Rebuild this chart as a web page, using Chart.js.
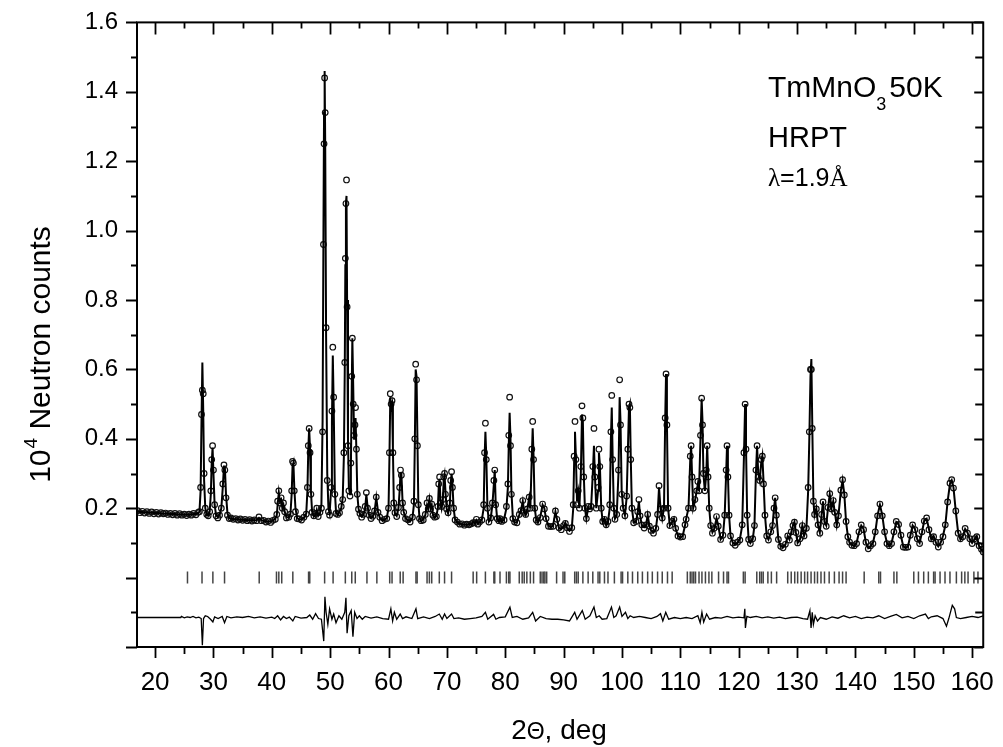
<!DOCTYPE html>
<html>
<head>
<meta charset="utf-8">
<script src="https://cdn.jsdelivr.net/npm/chart.js@4.4.1/dist/chart.umd.min.js"></script>
<style>
html,body{margin:0;padding:0;background:#fff;}
#wrap{width:1003px;height:747px;position:relative;}
</style>
</head>
<body>
<div id="wrap"><canvas id="c" width="1003" height="747"></canvas></div>
<script>
// ---- data ----
const xTickValues = [20,30,40,50,60,70,80,90,100,110,120,130,140,150,160];
const xMinorValues = [25,35,45,55,65,75,85,95,105,115,125,135,145,155];
const yTickValues = [-0.2,0,0.2,0.4,0.6,0.8,1.0,1.2,1.4,1.6];
const yMinorValues = [-0.1,0.1,0.3,0.5,0.7,0.9,1.1,1.3,1.5];

const calcPts = [
[17.0,.19],[17.4,.189],[17.8,.189],[18.2,.188],[18.6,.188],[19.0,.187],[19.4,.187],[19.8,.186],[20.2,.186],[20.6,.186],[21.0,.185],[21.4,.185],[21.8,.184],[22.2,.184],[22.6,.183],[23.0,.183],[23.4,.183],[23.8,.182],[24.2,.182],[24.6,.182],[25.0,.181],[25.4,.182],[25.8,.181],[26.2,.182],[26.6,.183],[27.0,.183],[27.4,.186],
[27.6,.19],[27.8,.25],[27.95,.45],[28.1,.62],[28.25,.48],[28.4,.28],[28.6,.2],[28.85,.18],[29.1,.18],
[29.35,.19],[29.55,.24],[29.7,.33],[29.85,.375],[30.0,.3],[30.2,.21],[30.45,.18],[30.75,.175],[31.05,.18],
[31.35,.2],[31.6,.26],[31.8,.32],[31.95,.32],[32.15,.24],[32.4,.185],[32.7,.172],
[33.0,.17],[33.4,.169],[33.8,.168],[34.2,.168],[34.6,.167],[35.0,.167],[35.4,.166],[35.8,.166],[36.2,.165],[36.6,.165],[37.0,.165],[37.4,.166],[37.8,.172],[38.2,.166],[38.6,.163],[39.0,.162],[39.4,.161],[39.8,.162],[40.2,.164],[40.6,.17],
[40.85,.18],[41.0,.21],[41.2,.245],[41.4,.22],[41.6,.225],[41.8,.2],[42.0,.21],[42.2,.19],[42.5,.175],[42.9,.172],[43.2,.185],
[43.4,.24],[43.55,.32],[43.7,.33],[43.85,.26],[44.05,.2],[44.35,.172],[44.7,.167],[45.1,.168],[45.5,.172],[45.9,.185],
[46.1,.25],[46.25,.37],[46.4,.43],[46.55,.37],[46.7,.25],[46.9,.19],[47.2,.176],[47.5,.182],[47.7,.195],[47.95,.178],[48.25,.185],
[48.5,.21],[48.7,.45],[48.85,1.0],[48.95,1.34],[49.05,1.46],[49.15,1.25],[49.3,.7],[49.5,.3],[49.7,.2],[49.9,.185],
[50.15,.25],[50.3,.45],[50.45,.64],[50.6,.5],[50.8,.25],[51.0,.19],[51.3,.18],[51.6,.19],[51.9,.2],[52.15,.23],
[52.35,.35],[52.5,.6],[52.6,.9],[52.7,1.08],[52.8,1.1],[52.9,.8],[53.05,.4],[53.2,.26],[53.4,.24],
[53.55,.32],[53.7,.55],[53.8,.69],[53.95,.55],[54.1,.4],[54.25,.44],[54.35,.46],[54.5,.36],[54.65,.24],[54.85,.2],[55.1,.182],[55.4,.176],[55.7,.18],
[56.0,.2],[56.2,.24],[56.4,.205],[56.7,.178],[57.0,.172],[57.3,.175],[57.6,.19],
[57.9,.23],[58.2,.19],[58.5,.172],[58.9,.166],[59.3,.166],[59.7,.172],
[60.0,.2],[60.15,.34],[60.3,.52],[60.45,.49],[60.6,.5],[60.75,.37],[60.9,.22],[61.1,.185],[61.4,.178],[61.7,.2],
[61.9,.25],[62.05,.3],[62.2,.3],[62.4,.22],[62.6,.19],[62.9,.172],[63.3,.165],[63.7,.162],[64.1,.172],
[64.35,.21],[64.5,.38],[64.65,.6],[64.8,.58],[64.95,.4],[65.1,.22],[65.3,.172],[65.6,.162],[65.95,.168],
[66.3,.18],[66.6,.21],[66.8,.2],[67.0,.225],[67.2,.2],[67.4,.21],[67.6,.183],[67.9,.172],[68.2,.178],
[68.45,.2],[68.6,.26],[68.75,.285],[68.9,.22],[69.1,.2],[69.3,.22],[69.45,.28],[69.6,.295],[69.75,.25],[69.95,.2],[70.2,.185],[70.5,.21],[70.65,.27],[70.8,.3],[70.95,.27],[71.15,.2],[71.4,.168],[71.8,.158],[72.2,.156],[72.6,.153],[73.0,.153],[73.4,.152],[73.8,.154],[74.2,.152],[74.5,.16],[74.8,.156],[75.05,.165],[75.3,.156],[75.6,.158],[76.0,.168],
[76.3,.2],[76.45,.34],[76.6,.42],[76.75,.35],[76.95,.2],[77.2,.162],[77.5,.17],[77.8,.21],[78.05,.27],[78.2,.31],[78.35,.22],[78.6,.172],[78.9,.162],[79.1,.172],[79.4,.16],[79.8,.168],[80.2,.2],
[80.45,.26],[80.6,.38],[80.75,.475],[80.9,.4],[81.05,.25],[81.3,.172],[81.6,.158],[82.0,.16],[82.4,.18],[82.7,.195],[83.0,.22],[83.25,.19],[83.5,.18],[83.8,.2],[84.1,.23],[84.3,.2],[84.55,.35],[84.7,.43],[84.85,.35],[85.05,.2],[85.3,.168],[85.6,.158],[86.0,.175],[86.4,.21],[86.7,.2],[87.0,.168],[87.4,.15],[87.8,.145],[88.2,.15],[88.6,.19],[88.85,.17],[89.2,.142],[89.6,.14],[90.0,.148],[90.3,.158],[90.6,.142],[91.0,.135],[91.4,.142],[91.65,.2],
[91.8,.33],[91.95,.42],[92.1,.35],[92.3,.22],[92.5,.245],[92.7,.2],[92.95,.3],[93.15,.47],[93.3,.45],[93.45,.3],[93.65,.2],[93.9,.17],[94.2,.2],[94.45,.2],[94.7,.2],[95.0,.3],[95.2,.38],[95.35,.3],[95.6,.2],[95.9,.25],[96.05,.36],[96.2,.33],[96.45,.2],[96.7,.16],[97.0,.17],[97.3,.15],[97.6,.16],[97.9,.2],[98.1,.4],[98.25,.49],[98.4,.35],[98.6,.2],[98.8,.17],[99.1,.18],[99.4,.3],[99.6,.52],[99.75,.45],[99.95,.25],[100.2,.2],[100.5,.18],[100.8,.23],[101.0,.36],[101.2,.49],[101.35,.5],[101.5,.35],[101.7,.2],[102.0,.16],[102.4,.16],[102.7,.19],[102.9,.22],[103.1,.18],[103.4,.15],[103.8,.145],[104.1,.15],[104.4,.18],[104.7,.15],[105.0,.135],[105.4,.13],[105.8,.14],[106.1,.18],[106.35,.26],[106.6,.2],[106.9,.17],[107.2,.2],[107.4,.45],[107.55,.587],[107.7,.45],[107.9,.2],[108.2,.15],[108.6,.16],[108.9,.17],[109.2,.14],[109.6,.12],[110.0,.115],[110.4,.12],[110.8,.15],[111.0,.17],[111.4,.2],[111.7,.34],[111.85,.38],[112.0,.3],[112.2,.2],[112.5,.22],[112.8,.25],[113.0,.27],[113.2,.25],[113.45,.4],[113.65,.515],[113.8,.45],[113.95,.3],[114.2,.25],[114.45,.3],[114.6,.38],[114.75,.3],[114.95,.2],[115.2,.15],[115.5,.13],[115.8,.14],[116.2,.17],[116.5,.15],[116.9,.11],[117.3,.12],[117.6,.18],[117.85,.3],[118.0,.38],[118.15,.3],[118.35,.18],[118.6,.12],[119.0,.1],[119.4,.095],[119.8,.1],[120.2,.11],[120.6,.15],[120.9,.35],[121.1,.5],[121.25,.38],[121.45,.18],[121.7,.11],[122.0,.1],[122.4,.11],[122.7,.15],[122.95,.3],[123.15,.38],[123.35,.3],[123.6,.28],[123.85,.33],[124.05,.35],[124.25,.28],[124.5,.18],[124.8,.12],[125.1,.11],[125.5,.13],[125.8,.15],[126.05,.2],[126.25,.23],[126.45,.18],[126.8,.11],[127.2,.09],[127.6,.088],[128.0,.095],[128.4,.12],[128.7,.11],[129.0,.13],[129.3,.15],[129.55,.16],[129.8,.13],[130.1,.1],[130.5,.11],[130.9,.15],[131.2,.12],[131.6,.14],[131.9,.25],[132.1,.4],[132.3,.58],[132.45,.63],[132.6,.45],[132.8,.22],[133.0,.18],[133.3,.2],[133.6,.15],[133.9,.13],[134.2,.18],[134.45,.22],[134.7,.16],[135.0,.15],[135.3,.2],[135.6,.24],[135.9,.2],[136.2,.22],[136.45,.19],[136.8,.15],[137.1,.18],[137.5,.25],[137.8,.28],[138.1,.24],[138.4,.16],[138.7,.12],[139.0,.1],[139.4,.095],[139.8,.09],[140.2,.1],[140.6,.13],[141.0,.15],[141.4,.14],[141.8,.1],[142.2,.085],[142.6,.09],[143.0,.1],[143.4,.13],[143.8,.18],[144.2,.21],[144.6,.18],[145.0,.13],[145.4,.1],[145.8,.09],[146.2,.1],[146.6,.13],[147.0,.16],[147.4,.155],[147.8,.12],[148.2,.09],[148.6,.085],[149.0,.09],[149.4,.12],[149.8,.15],[150.2,.14],[150.6,.11],[151.0,.1],[151.4,.13],[151.8,.165],[152.2,.17],[152.6,.14],[153.0,.11],[153.4,.12],[153.8,.1],[154.2,.09],[154.6,.1],[155.0,.12],[155.4,.15],[155.8,.22],[156.2,.27],[156.5,.28],[156.8,.26],[157.2,.19],[157.6,.13],[158.0,.11],[158.4,.12],[158.8,.14],[159.2,.13],[159.6,.11],[160.0,.1],[160.4,.11],[160.8,.12],[161.2,.09],[161.6,.08],[161.9,.075]
];

const obsPts = [
[17.0,.193],[17.4,.187],[17.8,.191],[18.2,.186],[18.6,.19],[19.0,.185],[19.4,.189],[19.8,.184],[20.2,.188],[20.6,.183],[21.0,.187],[21.4,.184],[21.8,.186],[22.2,.182],[22.6,.185],[23.0,.181],[23.4,.185],[23.8,.18],[24.2,.184],[24.6,.18],[25.0,.183],[25.4,.179],[25.8,.183],[26.2,.18],[26.6,.185],[27.0,.181],[27.4,.188],
[27.6,.19],[27.8,.26],[27.95,.47],[28.1,.54],[28.25,.53],[28.4,.3],[28.6,.2],[28.85,.182],[29.1,.178],
[29.35,.19],[29.55,.25],[29.7,.34],[29.85,.38],[30.0,.31],[30.2,.21],[30.45,.178],[30.75,.172],[31.05,.18],
[31.35,.2],[31.6,.27],[31.8,.325],[31.95,.31],[32.15,.23],[32.4,.18],[32.7,.17],
[33.0,.172],[33.4,.168],[33.8,.17],[34.2,.166],[34.6,.169],[35.0,.165],[35.4,.168],[35.8,.164],[36.2,.167],[36.6,.163],[37.0,.166],[37.4,.164],[37.8,.175],[38.2,.164],[38.6,.165],[39.0,.16],[39.4,.163],[39.8,.159],[40.2,.165],[40.6,.168],
[40.85,.182],[41.0,.22],[41.2,.25],[41.4,.215],[41.6,.23],[41.8,.2],[42.0,.215],[42.2,.19],[42.5,.172],[42.9,.174],[43.2,.183],
[43.4,.25],[43.55,.335],[43.7,.33],[43.85,.25],[44.05,.19],[44.35,.17],[44.7,.169],[45.1,.166],[45.5,.174],[45.9,.183],
[46.1,.26],[46.25,.38],[46.4,.43],[46.55,.36],[46.7,.24],[46.9,.188],[47.2,.178],[47.5,.185],[47.7,.2],[47.95,.176],[48.25,.188],
[48.5,.2],[48.7,.42],[48.85,.96],[48.95,1.25],[49.05,1.44],[49.15,1.34],[49.3,.72],[49.5,.28],[49.7,.19],[49.9,.18],
[50.15,.26],[50.3,.48],[50.45,.664],[50.6,.52],[50.8,.24],[51.0,.185],[51.3,.182],[51.6,.187],[51.9,.205],[52.15,.225],
[52.35,.36],[52.5,.62],[52.6,.92],[52.7,1.078],[52.8,1.146],[52.9,.78],[53.05,.38],[53.2,.25],[53.4,.235],
[53.55,.33],[53.7,.58],[53.8,.69],[53.95,.5],[54.1,.41],[54.25,.44],[54.35,.49],[54.5,.37],[54.65,.24],[54.85,.197],[55.1,.185],[55.4,.174],[55.7,.182],
[56.0,.205],[56.2,.245],[56.4,.2],[56.7,.18],[57.0,.17],[57.3,.177],[57.6,.192],
[57.9,.232],[58.2,.188],[58.5,.174],[58.9,.164],[59.3,.168],[59.7,.17],
[60.0,.2],[60.15,.36],[60.3,.53],[60.45,.5],[60.6,.51],[60.75,.36],[60.9,.215],[61.1,.187],[61.4,.176],[61.7,.202],
[61.9,.26],[62.05,.31],[62.2,.295],[62.4,.215],[62.6,.188],[62.9,.17],[63.3,.167],[63.7,.16],[64.1,.174],
[64.35,.22],[64.5,.4],[64.65,.615],[64.8,.57],[64.95,.38],[65.1,.21],[65.3,.17],[65.6,.164],[65.95,.166],
[66.3,.182],[66.6,.215],[66.8,.198],[67.0,.228],[67.2,.198],[67.4,.212],[67.6,.18],[67.9,.174],[68.2,.176],
[68.45,.205],[68.6,.27],[68.75,.29],[68.9,.215],[69.1,.205],[69.3,.225],[69.45,.29],[69.6,.3],[69.75,.24],[69.95,.198],[70.2,.187],[70.5,.215],[70.65,.28],[70.8,.305],[70.95,.26],[71.15,.2],[71.4,.166],[71.8,.16],[72.2,.154],[72.6,.155],[73.0,.151],[73.4,.154],[73.8,.152],[74.2,.155],[74.5,.158],[74.8,.158],[75.05,.168],[75.3,.154],[75.6,.16],[76.0,.166],
[76.3,.21],[76.45,.36],[76.6,.445],[76.75,.34],[76.95,.2],[77.2,.16],[77.5,.172],[77.8,.215],[78.05,.28],[78.2,.31],[78.35,.21],[78.6,.17],[78.9,.164],[79.1,.17],[79.4,.162],[79.8,.166],[80.2,.205],
[80.45,.27],[80.6,.41],[80.75,.52],[80.9,.38],[81.05,.24],[81.3,.17],[81.6,.16],[82.0,.158],[82.4,.182],[82.7,.193],[83.0,.222],[83.25,.188],[83.5,.182],[83.8,.198],[84.1,.232],[84.3,.2],[84.55,.37],[84.7,.45],[84.85,.34],[85.05,.2],[85.3,.166],[85.6,.16],[86.0,.173],[86.4,.212],[86.7,.198],[87.0,.17],[87.4,.148],[87.8,.147],[88.2,.148],[88.6,.192],[88.85,.168],[89.2,.144],[89.6,.138],[90.0,.15],[90.3,.156],[90.6,.144],[91.0,.133],[91.4,.144],[91.65,.21],
[91.8,.35],[91.95,.45],[92.1,.34],[92.3,.21],[92.5,.25],[92.7,.2],[92.95,.32],[93.15,.495],[93.3,.46],[93.45,.29],[93.65,.2],[93.9,.17],[94.2,.205],[94.45,.198],[94.7,.205],[95.0,.32],[95.2,.43],[95.35,.29],[95.6,.2],[95.9,.26],[96.05,.37],[96.2,.32],[96.45,.2],[96.7,.162],[97.0,.168],[97.3,.152],[97.6,.162],[97.9,.21],[98.1,.42],[98.25,.525],[98.4,.34],[98.6,.2],[98.8,.168],[99.1,.182],[99.4,.31],[99.6,.57],[99.75,.44],[99.95,.24],[100.2,.2],[100.5,.178],[100.8,.235],[101.0,.37],[101.2,.5],[101.35,.49],[101.5,.34],[101.7,.2],[102.0,.158],[102.4,.162],[102.7,.19],[102.9,.225],[103.1,.178],[103.4,.152],[103.8,.143],[104.1,.152],[104.4,.182],[104.7,.148],[105.0,.136],[105.4,.128],[105.8,.142],[106.1,.182],[106.35,.265],[106.6,.198],[106.9,.172],[107.2,.2],[107.4,.46],[107.55,.587],[107.7,.44],[107.9,.2],[108.2,.15],[108.6,.162],[108.9,.168],[109.2,.142],[109.6,.12],[110.0,.117],[110.4,.118],[110.8,.152],[111.0,.168],[111.4,.2],[111.7,.35],[111.85,.38],[112.0,.29],[112.2,.2],[112.5,.225],[112.8,.25],[113.0,.277],[113.2,.25],[113.45,.41],[113.65,.517],[113.8,.44],[113.95,.3],[114.2,.25],[114.45,.31],[114.6,.38],[114.75,.29],[114.95,.2],[115.2,.15],[115.5,.128],[115.8,.142],[116.2,.176],[116.5,.148],[116.9,.11],[117.3,.122],[117.6,.18],[117.85,.31],[118.0,.38],[118.15,.29],[118.35,.18],[118.6,.12],[119.0,.1],[119.4,.093],[119.8,.102],[120.2,.108],[120.6,.152],[120.9,.36],[121.1,.5],[121.25,.37],[121.45,.18],[121.7,.11],[122.0,.098],[122.4,.112],[122.7,.15],[122.95,.31],[123.15,.38],[123.35,.29],[123.6,.28],[123.85,.34],[124.05,.35],[124.25,.27],[124.5,.18],[124.8,.12],[125.1,.108],[125.5,.132],[125.8,.15],[126.05,.2],[126.25,.23],[126.45,.18],[126.8,.11],[127.2,.09],[127.6,.086],[128.0,.096],[128.4,.12],[128.7,.108],[129.0,.132],[129.3,.15],[129.55,.16],[129.8,.13],[130.1,.1],[130.5,.112],[130.9,.15],[131.2,.12],[131.6,.142],[131.9,.26],[132.1,.42],[132.3,.6],[132.45,.6],[132.6,.43],[132.8,.22],[133.0,.182],[133.3,.198],[133.6,.152],[133.9,.128],[134.2,.182],[134.45,.218],[134.7,.162],[135.0,.148],[135.3,.202],[135.6,.242],[135.9,.198],[136.2,.222],[136.45,.188],[136.8,.152],[137.1,.178],[137.5,.252],[137.8,.282],[138.1,.238],[138.4,.162],[138.7,.118],[139.0,.102],[139.4,.093],[139.8,.092],[140.2,.098],[140.6,.132],[141.0,.152],[141.4,.138],[141.8,.102],[142.2,.083],[142.6,.092],[143.0,.098],[143.4,.132],[143.8,.178],[144.2,.212],[144.6,.178],[145.0,.132],[145.4,.098],[145.8,.092],[146.2,.098],[146.6,.132],[147.0,.162],[147.4,.153],[147.8,.122],[148.2,.088],[148.6,.087],[149.0,.088],[149.4,.122],[149.8,.152],[150.2,.138],[150.6,.112],[151.0,.098],[151.4,.132],[151.8,.163],[152.2,.172],[152.6,.138],[153.0,.112],[153.4,.118],[153.8,.102],[154.2,.088],[154.6,.102],[155.0,.118],[155.4,.152],[155.8,.218],[156.2,.272],[156.5,.282],[156.8,.258],[157.2,.192],[157.6,.128],[158.0,.112],[158.4,.118],[158.8,.142],[159.2,.128],[159.6,.112],[160.0,.098],[160.4,.112],[160.8,.118],[161.2,.092],[161.6,.082],[161.9,.074]
];

const diffPts = [
[16.9,-.115],[24.4,-.115],[24.5,-.112],[25.0,-.116],[25.5,-.113],[26.0,-.115],[26.5,-.112],[27.0,-.116],[27.5,-.114],[27.9,-.118],[28.1,-.195],[28.3,-.118],[28.6,-.11],[29.0,-.112],[29.5,-.12],[29.9,-.128],[30.2,-.113],[30.8,-.118],[31.5,-.112],[31.9,-.13],[32.3,-.112],[33,-.116],[34,-.113],[35,-.115],[36,-.112],[37,-.116],[38,-.113],[39,-.117],[40,-.114],[40.5,-.118],[41.0,-.11],[41.5,-.122],[42.0,-.112],[42.5,-.118],[43.0,-.114],[43.6,-.125],[44.0,-.112],[45.0,-.117],[46.0,-.115],[46.5,-.108],[47.0,-.12],[47.5,-.104],[48.0,-.118],[48.5,-.12],[48.9,-.183],[49.1,-.055],[49.3,-.1],[49.6,-.135],[49.9,-.09],[50.3,-.12],[50.6,-.105],[51.0,-.13],[51.5,-.11],[52.0,-.12],[52.5,-.1],[52.7,-.058],[52.9,-.16],[53.2,-.11],[53.6,-.095],[53.9,-.17],[54.2,-.1],[54.6,-.118],[55.0,-.11],[55.5,-.12],[56,-.112],[57,-.117],[58,-.113],[59,-.118],[60.0,-.12],[60.4,-.09],[60.7,-.125],[61.0,-.1],[61.4,-.12],[62.0,-.105],[62.4,-.118],[63,-.113],[64,-.118],[64.7,-.09],[65.0,-.118],[66,-.113],[67,-.118],[68,-.112],[68.7,-.105],[69.2,-.12],[69.6,-.105],[70.0,-.118],[70.8,-.105],[71.2,-.118],[72,-.116],[73,-.12],[74,-.118],[75,-.116],[76.0,-.112],[76.6,-.1],[77.0,-.12],[78.0,-.106],[78.4,-.12],[79,-.115],[80.0,-.113],[80.8,-.085],[81.2,-.115],[82,-.112],[83,-.12],[84.0,-.116],[84.7,-.1],[85.2,-.125],[86,-.112],[87,-.118],[88,-.12],[89,-.12],[90,-.122],[91,-.125],[91.9,-.1],[92.3,-.12],[93.2,-.095],[93.7,-.12],[94.5,-.11],[95.2,-.085],[95.6,-.115],[96.1,-.11],[96.6,-.12],[97.4,-.118],[98.2,-.085],[98.6,-.115],[99.0,-.11],[99.6,-.085],[100.0,-.112],[100.6,-.1],[101.0,-.118],[101.4,-.11],[102,-.115],[103,-.112],[104,-.115],[105,-.118],[106,-.112],[106.6,-.104],[107.0,-.125],[107.5,-.1],[108.0,-.12],[109,-.115],[110,-.118],[111,-.115],[112,-.118],[113.0,-.11],[113.4,-.13],[113.7,-.1],[114.0,-.128],[114.5,-.105],[115.0,-.12],[116,-.115],[117,-.117],[118,-.112],[119,-.116],[120,-.114],[120.9,-.116],[121.05,-.09],[121.15,-.145],[121.4,-.112],[122,-.115],[123,-.112],[124,-.116],[125,-.113],[126,-.117],[127,-.114],[128,-.118],[129,-.115],[130,-.114],[131,-.118],[131.8,-.12],[132.2,-.095],[132.4,-.145],[132.6,-.1],[132.8,-.135],[133.1,-.11],[133.5,-.125],[134,-.115],[135,-.12],[136,-.113],[137,-.117],[138,-.11],[139,-.116],[140,-.112],[141,-.118],[142,-.114],[143,-.116],[144,-.11],[145,-.118],[146,-.112],[147,-.106],[148,-.116],[149,-.112],[150,-.118],[151,-.11],[152,-.105],[152.5,-.118],[153,-.113],[154,-.11],[155,-.118],[155.6,-.14],[156.0,-.118],[156.6,-.08],[157.0,-.09],[157.3,-.115],[158,-.118],[159,-.115],[160,-.112],[161,-.115],[161.9,-.11]
];

const braggPos = [25.55,28.04,29.9,31.9,37.84,40.8,41.2,41.7,43.6,46.3,46.5,49.05,50.5,52.6,53.7,54.3,56.3,58.0,60.2,60.6,62.0,62.5,64.7,64.9,66.6,67.0,67.4,68.7,69.6,70.8,74.5,75.1,76.6,78.05,78.2,79.1,80.2,80.6,80.8,82.4,82.9,83.25,83.7,84.3,84.85,86.0,86.3,86.6,86.8,87.1,88.8,89.9,90.2,91.9,92.2,92.5,93.3,94.2,95.0,95.9,96.2,97.0,97.6,98.7,99.85,100.1,101.0,101.8,102.7,103.5,104.4,105.2,106.1,106.9,107.8,108.6,111.2,111.7,112.0,112.3,112.6,113.2,113.7,114.3,114.9,115.4,116.55,117.4,118.0,118.25,120.8,121.1,123.1,123.6,123.9,124.2,125.0,125.6,126.5,128.4,129.0,129.6,130.1,130.7,131.3,131.8,132.4,133.0,133.5,134.1,134.7,135.5,136.4,137.2,137.8,138.4,141.5,144.0,144.3,146.6,147.1,150.0,150.8,151.7,152.5,153.4,153.65,154.5,155.35,156.2,157.3,158.2,158.75,159.3,160.3,161.0];
const braggLevel = 0;

// ---- chart ----
const toXY = arr => arr.map(p => ({x: p[0], y: p[1]}));

const decorations = {
  id: 'decorations',
  afterDraw(chart) {
    const {ctx, chartArea: a, scales: {x, y}} = chart;
    ctx.save();
    ctx.strokeStyle = '#000';
    ctx.lineWidth = 2;
    ctx.strokeRect(a.left, a.top, a.right - a.left, a.bottom - a.top);
    ctx.lineWidth = 1.8;
    ctx.beginPath();
    xTickValues.forEach(v => {
      const px = Math.round(x.getPixelForValue(v)) + 0.5;
      ctx.moveTo(px, a.bottom); ctx.lineTo(px, a.bottom + 11);
      ctx.moveTo(px, a.top); ctx.lineTo(px, a.top + 12);
    });
    xMinorValues.forEach(v => {
      const px = Math.round(x.getPixelForValue(v)) + 0.5;
      ctx.moveTo(px, a.bottom); ctx.lineTo(px, a.bottom + 7);
      ctx.moveTo(px, a.top); ctx.lineTo(px, a.top + 6);
    });
    yTickValues.forEach(v => {
      const py = Math.round(y.getPixelForValue(v)) + 0.5;
      ctx.moveTo(a.left, py); ctx.lineTo(a.left - 11, py);
      ctx.moveTo(a.right, py); ctx.lineTo(a.right - 9, py);
    });
    yMinorValues.forEach(v => {
      const py = Math.round(y.getPixelForValue(v)) + 0.5;
      ctx.moveTo(a.left, py); ctx.lineTo(a.left - 6, py);
      ctx.moveTo(a.right, py); ctx.lineTo(a.right - 8, py);
    });
    ctx.stroke();

    ctx.fillStyle = '#000';
    ctx.textBaseline = 'alphabetic';
    ctx.textAlign = 'left';
    // annotation block
    const sans = 'Liberation Sans, Arial, sans-serif';
    ctx.font = '30px ' + sans;
    const t1 = 'TmMnO';
    ctx.fillText(t1, 768, 97);
    let w = ctx.measureText(t1).width;
    ctx.font = '18px ' + sans;
    ctx.fillText('3', 768 + w, 110);
    const w3 = ctx.measureText('3').width;
    ctx.font = '30px ' + sans;
    ctx.fillText('50K', 768 + w + w3 + 3, 97);
    ctx.font = '29px ' + sans;
    ctx.fillText('HRPT', 768, 147);
    ctx.font = '25px Liberation Serif, Times New Roman, serif';
    ctx.fillText('λ', 768, 186);
    let wl = ctx.measureText('λ').width;
    ctx.font = '25px ' + sans;
    ctx.fillText('=1.9', 768 + wl, 186);
    let we = ctx.measureText('=1.9').width;
    ctx.font = '25px Liberation Serif, Times New Roman, serif';
    ctx.fillText('Å', 768 + wl + we, 186);

    // x title
    ctx.font = '28px ' + sans;
    const p1 = '2', p3 = ', deg';
    const w1 = ctx.measureText(p1).width, w3b = ctx.measureText(p3).width;
    ctx.font = '23px ' + sans;
    const w2 = ctx.measureText('Θ').width;
    let sx = 559 - (w1 + w2 + w3b) / 2;
    ctx.font = '28px ' + sans;
    ctx.fillText(p1, sx, 739);
    ctx.font = '23px ' + sans;
    ctx.fillText('Θ', sx + w1, 739);
    ctx.font = '28px ' + sans;
    ctx.fillText(p3, sx + w1 + w2, 739);

    // y title (rotated)
    ctx.save();
    ctx.translate(50, 355);
    ctx.rotate(-Math.PI / 2);
    ctx.font = '30px ' + sans;
    const a1 = '10', a3 = ' Neutron counts';
    const wa1 = ctx.measureText(a1).width, wa3 = ctx.measureText(a3).width;
    ctx.font = '19px ' + sans;
    const wa2 = ctx.measureText('4').width;
    let s = -(wa1 + wa2 + wa3) / 2;
    ctx.font = '30px ' + sans;
    ctx.fillText(a1, s, 0);
    ctx.font = '19px ' + sans;
    ctx.fillText('4', s + wa1 + 1, -13);
    ctx.font = '30px ' + sans;
    ctx.fillText(a3, s + wa1 + wa2 + 1, 0);
    ctx.restore();

    ctx.restore();
  }
};

Chart.defaults.font.family = 'Liberation Sans, Arial, sans-serif';
Chart.defaults.color = '#000';

new Chart(document.getElementById('c'), {
  type: 'line',
  data: {
    datasets: [
      {
        label: 'calculated',
        data: toXY(calcPts),
        borderColor: '#000',
        borderWidth: 2,
        pointRadius: 0,
        tension: 0,
        order: 0
      },
      {
        label: 'observed',
        data: toXY(obsPts),
        showLine: false,
        pointRadius: 2.8,
        pointBorderWidth: 1.2,
        pointBorderColor: '#111',
        pointBackgroundColor: 'rgba(255,255,255,0)',
        order: 1
      },
      {
        label: 'Bragg positions',
        data: braggPos.map(v => ({x: v, y: braggLevel})),
        showLine: false,
        pointStyle: 'line',
        rotation: 90,
        pointRadius: 6,
        pointBorderWidth: 1.5,
        pointBorderColor: '#444',
        order: 2
      },
      {
        label: 'difference',
        data: toXY(diffPts),
        borderColor: '#000',
        borderWidth: 1.3,
        pointRadius: 0,
        tension: 0,
        order: 3
      }
    ]
  },
  options: {
    responsive: false,
    animation: false,
    devicePixelRatio: 1,
    layout: {padding: {left: 0, right: 13, top: 21, bottom: 0}},
    plugins: {legend: {display: false}, tooltip: {enabled: false}},
    scales: {
      x: {
        type: 'linear',
        min: 16.9,
        max: 161.9,
        afterBuildTicks: s => { s.ticks = xTickValues.map(v => ({value: v})); },
        afterFit: s => { s.height = 100; },
        grid: {color: 'rgba(0,0,0,0)', drawTicks: true, tickLength: 11},
        border: {display: false},
        ticks: {font: {size: 26}, padding: 9, maxRotation: 0, autoSkip: false, callback: v => String(v)}
      },
      y: {
        type: 'linear',
        min: -0.2,
        max: 1.6,
        afterBuildTicks: s => { s.ticks = yTickValues.map(v => ({value: v})); },
        afterFit: s => { s.width = 137; },
        grid: {color: 'rgba(0,0,0,0)', drawTicks: true, tickLength: 11},
        border: {display: false},
        ticks: {font: {size: 24}, padding: 8, autoSkip: false, callback: v => (v > 0.15 ? v.toFixed(1) : '')}
      }
    }
  },
  plugins: [decorations]
});
</script>
</body>
</html>
